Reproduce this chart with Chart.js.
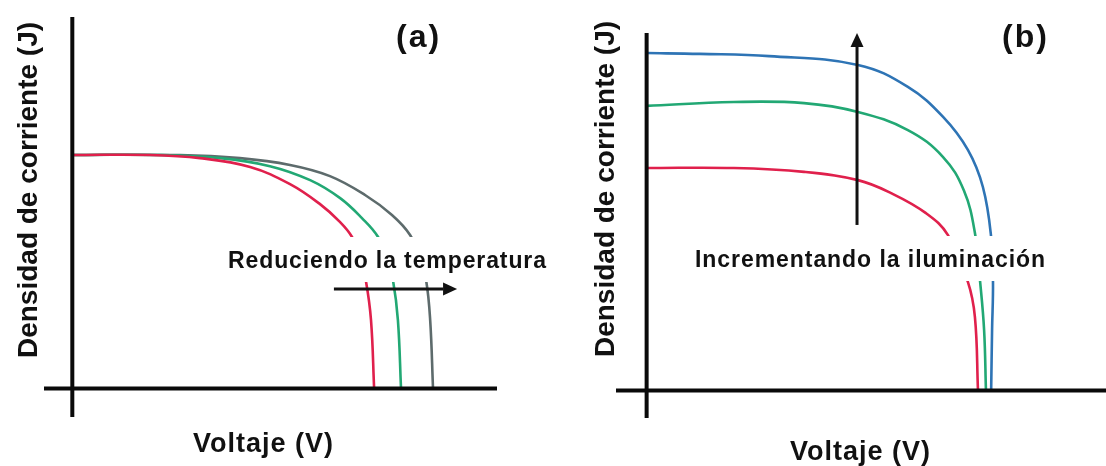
<!DOCTYPE html>
<html>
<head>
<meta charset="utf-8">
<script src="https://cdn.jsdelivr.net/npm/chart.js@4.4.1/dist/chart.umd.min.js"></script>
<style>
  html, body { margin: 0; padding: 0; background: #ffffff; }
  #wrap { position: relative; width: 1106px; height: 466px; overflow: hidden; background: #ffffff; }
  canvas { position: absolute; top: 0; }
  #panelA { left: 0; }
  #panelB { left: 553px; }
</style>
</head>
<body>
<div id="wrap">
  <canvas id="panelA" width="553" height="466"></canvas>
  <canvas id="panelB" width="553" height="466"></canvas>
</div>
<script>
// ---- Panel (a): J–V curves for three temperatures (red warmest, grey coolest)
const tempHighV = [0, 0.275, 0.451, 0.628, 0.769, 0.875, 0.946, 0.988, 1.016, 1.037, 1.055, 1.066];
const tempHighJ = [0.817, 0.817, 0.806, 0.775, 0.715, 0.645, 0.582, 0.530, 0.460, 0.376, 0.239, 0];
const tempMidV  = [0, 0.310, 0.522, 0.698, 0.840, 0.946, 1.023, 1.080, 1.111, 1.133, 1.150, 1.161];
const tempMidJ  = [0.817, 0.817, 0.806, 0.778, 0.729, 0.666, 0.596, 0.530, 0.456, 0.376, 0.239, 0];
const tempLowV  = [0, 0.380, 0.592, 0.769, 0.910, 1.034, 1.129, 1.193, 1.228, 1.250, 1.264, 1.274];
const tempLowJ  = [0.817, 0.817, 0.806, 0.782, 0.743, 0.677, 0.607, 0.537, 0.456, 0.376, 0.239, 0];

// ---- Panel (b): J–V curves for three illumination levels (red dimmest, blue brightest)
const lightLowV  = [0, 0.285, 0.514, 0.690, 0.798, 0.912, 0.984, 1.049, 1.072, 1.082];
const lightLowJ  = [0.809, 0.809, 0.795, 0.765, 0.718, 0.645, 0.565, 0.395, 0.267, 0];
const lightMidV  = [0, 0.285, 0.514, 0.690, 0.853, 0.968, 1.036, 1.072, 1.089, 1.102, 1.108];
const lightMidJ  = [1.035, 1.049, 1.045, 1.013, 0.947, 0.849, 0.727, 0.573, 0.395, 0.219, 0];
const lightHighV = [0, 0.174, 0.400, 0.690, 0.853, 0.968, 1.049, 1.098, 1.125, 1.131, 1.128, 1.125];
const lightHighJ = [1.227, 1.224, 1.216, 1.184, 1.104, 0.995, 0.875, 0.740, 0.558, 0.395, 0.220, 0];

// ---- Text
const xTitle = 'Voltaje (V)';
const yTitle = 'Densidad de corriente (J)';
const labelTemp = 'Reduciendo la temperatura';
const labelLight = 'Incrementando la iluminación';

const RED = '#e0204c', GREEN = '#22a874', GREY = '#5d6b6c', BLUE = '#2e74b5';
const NOTE_FONT = 'bold 23px "Liberation Sans", Arial, sans-serif';

function pts(vs, js) { return vs.map((v, i) => ({ x: v, y: js[i] })); }

function series(vs, js, color) {
  return {
    data: pts(vs, js), borderColor: color, borderWidth: 2.6,
    showLine: true, pointRadius: 0, tension: 0.4, fill: false
  };
}

function drawArrow(ctx, x1, y1, x2, y2, head, halfW) {
  const ang = Math.atan2(y2 - y1, x2 - x1);
  const bx = x2 - head * Math.cos(ang), by = y2 - head * Math.sin(ang);
  ctx.save();
  ctx.strokeStyle = '#111'; ctx.fillStyle = '#111'; ctx.lineWidth = 3;
  ctx.beginPath(); ctx.moveTo(x1, y1); ctx.lineTo(bx, by); ctx.stroke();
  ctx.beginPath();
  ctx.moveTo(x2, y2);
  ctx.lineTo(bx + halfW * Math.sin(ang), by - halfW * Math.cos(ang));
  ctx.lineTo(bx - halfW * Math.sin(ang), by + halfW * Math.cos(ang));
  ctx.closePath(); ctx.fill();
  ctx.restore();
}

function spacedText(ctx, text, x, y, font, spacing, align) {
  ctx.save();
  ctx.font = font;
  ctx.letterSpacing = spacing + 'px';
  ctx.fillStyle = '#111';
  ctx.textBaseline = 'alphabetic';
  const w = ctx.measureText(text).width - spacing;
  let left = x;
  if (align === 'center') left = x - w / 2;
  ctx.textAlign = 'left';
  ctx.fillText(text, left, y);
  ctx.restore();
  return { left, width: w };
}

// letter spacing that makes a note span the given width
function fitSpacing(ctx, text, font, width) {
  ctx.save();
  ctx.font = font;
  ctx.letterSpacing = '0px';
  const w = ctx.measureText(text).width;
  ctx.restore();
  return Math.max(0, (width - w) / (text.length - 1));
}

// Per-panel decoration: axis cross, panel tag, axis titles, arrow and note
function framePlugin(cfg) {
  return {
    id: 'frame',
    afterDatasetsDraw(chart) {
      const { ctx, chartArea: a, scales: { x, y } } = chart;
      const x0 = x.getPixelForValue(0), y0 = y.getPixelForValue(0);

      // note text sits on a white band that interrupts the curves
      const sp = fitSpacing(ctx, cfg.note, NOTE_FONT, cfg.noteW);
      ctx.fillStyle = '#ffffff';
      ctx.fillRect(cfg.noteX - 4, cfg.noteBase - 31, cfg.noteW + 8, 45);
      spacedText(ctx, cfg.note, cfg.noteX, cfg.noteBase, NOTE_FONT, sp, 'left');

      // axes crossing at the origin
      ctx.save();
      ctx.strokeStyle = '#0a0a0a'; ctx.lineWidth = 4; ctx.lineCap = 'butt';
      ctx.beginPath(); ctx.moveTo(x0, a.top); ctx.lineTo(x0, a.bottom); ctx.stroke();
      ctx.beginPath(); ctx.moveTo(a.left, y0); ctx.lineTo(a.right, y0); ctx.stroke();
      ctx.restore();

      // direction arrow
      const ar = cfg.arrow;
      drawArrow(ctx, x.getPixelForValue(ar.x1), y.getPixelForValue(ar.y1),
                     x.getPixelForValue(ar.x2), y.getPixelForValue(ar.y2), 14, 6.5);

      // panel tag
      spacedText(ctx, cfg.tag, cfg.tagX, cfg.tagBase, 'bold 32px "Liberation Sans", Arial, sans-serif', 2, 'left');

      // x title
      spacedText(ctx, xTitle, cfg.xTitleX, cfg.xTitleBase, 'bold 27px "Liberation Sans", Arial, sans-serif', 1, 'center');

      // y title, rotated
      ctx.save();
      ctx.translate(cfg.yTitleBase, cfg.yTitleY);
      ctx.rotate(-Math.PI / 2);
      spacedText(ctx, yTitle, 0, 0, 'bold 28px "Liberation Sans", Arial, sans-serif', 0, 'center');
      ctx.restore();
    }
  };
}

function makePanel(id, datasets, padding, cfg) {
  return new Chart(document.getElementById(id), {
    type: 'scatter',
    data: { datasets },
    options: {
      responsive: false, animation: false, devicePixelRatio: 1,
      layout: { padding },
      plugins: { legend: { display: false }, tooltip: { enabled: false } },
      scales: {
        x: { type: 'linear', min: -0.1, max: 1.5, display: false },
        y: { type: 'linear', min: -0.1, max: 1.3, display: false }
      }
    },
    plugins: [framePlugin(cfg)]
  });
}

makePanel('panelA', [
  series(tempHighV, tempHighJ, RED),
  series(tempMidV, tempMidJ, GREEN),
  series(tempLowV, tempLowJ, GREY)
], { left: 44, right: 56, top: 17, bottom: 49 }, {
  note: labelTemp, noteX: 228, noteBase: 268, noteW: 318,
  arrow: { x1: 0.924, y1: 0.348, x2: 1.359, y2: 0.348 },
  tag: '(a)', tagX: 396, tagBase: 47,
  xTitleX: 263, xTitleBase: 452,
  yTitleBase: 37, yTitleY: 190
});

makePanel('panelB', [
  series(lightLowV, lightLowJ, RED),
  series(lightMidV, lightMidJ, GREEN),
  series(lightHighV, lightHighJ, BLUE)
], { left: 63, right: 0, top: 33, bottom: 48 }, {
  note: labelLight, noteX: 695 - 553, noteBase: 267, noteW: 350,
  arrow: { x1: 0.687, y1: 0.602, x2: 0.687, y2: 1.300 },
  tag: '(b)', tagX: 1002 - 553, tagBase: 47,
  xTitleX: 860 - 553, xTitleBase: 460,
  yTitleBase: 614 - 553, yTitleY: 189
});
</script>
</body>
</html>
